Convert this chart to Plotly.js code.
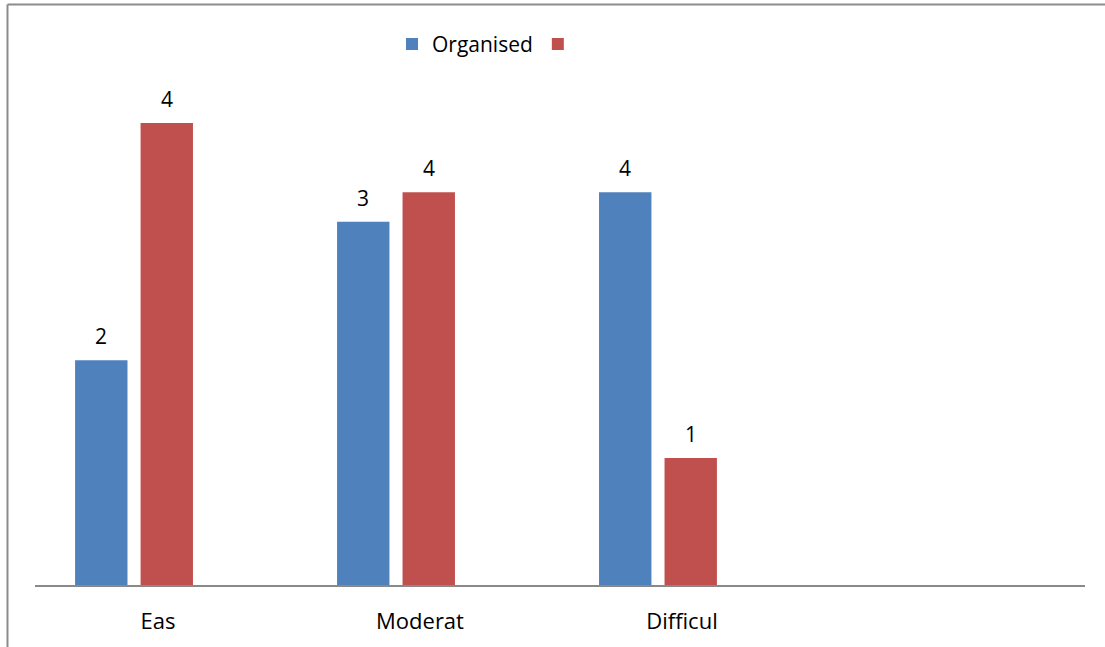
<!DOCTYPE html>
<html>
<head>
<meta charset="utf-8">
<script src="https://cdn.plot.ly/plotly-3.0.1.min.js"></script>
<style>html,body{margin:0;padding:0;background:#fff;}#chart{width:1105px;height:647px;}</style>
</head>
<body>
<div id="chart"></div>
<script>
// Data
var categories = ["Eas", "Moderat", "Difficul"];
var seriesNames = ["Organised", ""];
var organisedValues = [2.14, 3.46, 3.74];
var secondValues = [4.40, 3.74, 1.21];
var organisedLabels = ["2", "3", "4"];
var secondLabels = ["4", "4", "1"];

var blue = "#4F81BD", red = "#C0504D";
var fontFam = "Open Sans, Liberation Sans, sans-serif";

var traces = [
  {type: "bar", x: categories, y: organisedValues, name: seriesNames[0],
   marker: {color: blue}, hoverinfo: "skip"},
  {type: "bar", x: categories, y: secondValues, name: seriesNames[1],
   marker: {color: red}, hoverinfo: "skip"}
];

var annotations = [];
function addLabels(vals, labels, shift) {
  for (var i = 0; i < categories.length; i++) {
    annotations.push({x: categories[i], y: vals[i], xref: "x", yref: "y",
      text: labels[i], showarrow: false, xanchor: "center", yanchor: "bottom",
      xshift: shift, yshift: 8, font: {family: fontFam, size: 21, color: "#000"}});
  }
}
addLabels(organisedValues, organisedLabels, -33);
addLabels(secondValues, secondLabels, 33);

var layout = {
  width: 1105, height: 647,
  margin: {l: 35, r: 20, t: 60, b: 62, pad: 0, autoexpand: false},
  paper_bgcolor: "#fff", plot_bgcolor: "#fff",
  font: {family: fontFam, size: 21, color: "#000"},
  barmode: "group", bargap: 0.5, bargroupgap: 0.2,
  showlegend: true,
  legend: {orientation: "h", x: 0.34, y: 1.03, xanchor: "left", yanchor: "middle",
           font: {family: fontFam, size: 21, color: "#000"}, bgcolor: "rgba(0,0,0,0)"},
  xaxis: {type: "category", range: [-0.378, 3.63], showgrid: false, zeroline: false,
          showline: true, linecolor: "#898989", linewidth: 2, ticks: "",
          ticklabelshift: 24, ticklabelstandoff: 16, automargin: false,
          tickfont: {family: fontFam, size: 22, color: "#000"}, fixedrange: true},
  yaxis: {range: [0, 5], showgrid: false, zeroline: false, showline: false,
          showticklabels: false, ticks: "", fixedrange: true, automargin: false},
  annotations: annotations,
  shapes: [
    {type: "line", xref: "paper", yref: "paper", x0: -0.0262, x1: 1.1, y0: 1.1057, y1: 1.1057,
     line: {color: "#8c8c8c", width: 2}},
    {type: "line", xref: "paper", yref: "paper", x0: -0.0262, x1: -0.0262, y0: 1.1057, y1: -0.13,
     line: {color: "#8c8c8c", width: 2}}
  ]
};

Plotly.newPlot("chart", traces, layout, {staticPlot: true, displayModeBar: false});
</script>
</body>
</html>
